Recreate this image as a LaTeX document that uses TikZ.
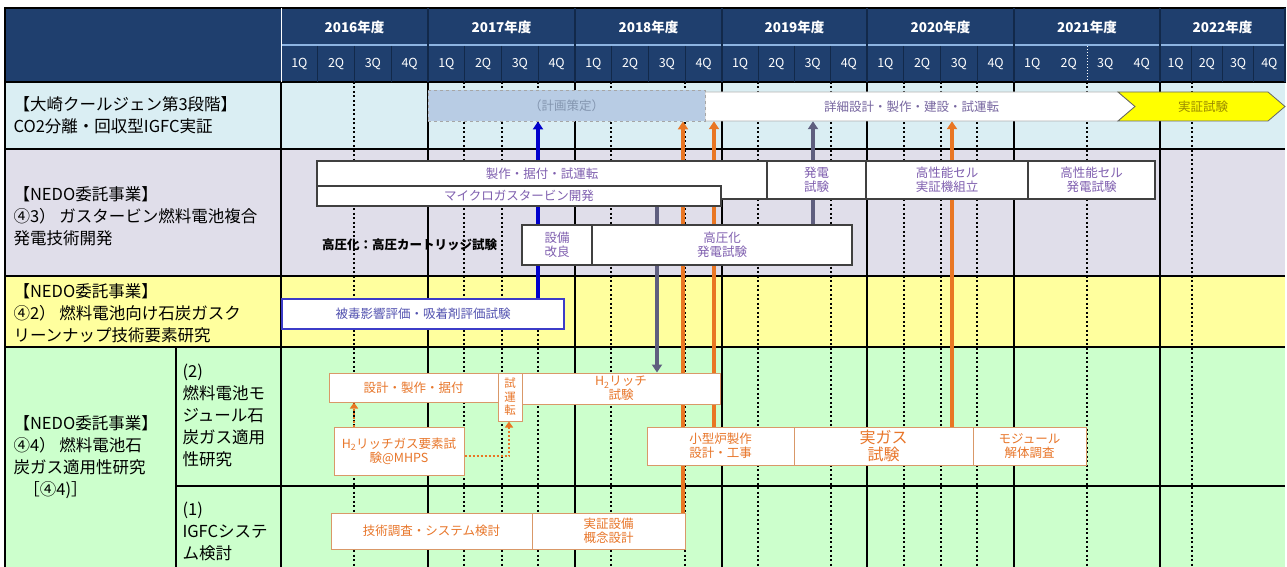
\documentclass[tikz,border=0pt]{standalone}
\usepackage{fontspec}
\setmainfont{Noto Sans CJK JP}
\usetikzlibrary{arrows.meta}
\pgfdeclarelayer{bg}
\pgfdeclarelayer{links}
\pgfsetlayers{bg,links,main}
\definecolor{navy}{HTML}{1F3F6E}
\definecolor{headdiv}{HTML}{12294A}
\definecolor{headsep}{HTML}{8DB4E2}
\definecolor{rowone}{HTML}{DAEEF3}
\definecolor{rowtwo}{HTML}{E0DEEA}
\definecolor{rowthree}{HTML}{FFFF9E}
\definecolor{rowfour}{HTML}{CCFFCC}
\definecolor{planblue}{HTML}{B8CCE4}
\definecolor{plantext}{HTML}{8496B0}
\definecolor{detailtext}{HTML}{7766A0}
\definecolor{demoyellow}{HTML}{FFFF00}
\definecolor{demotext}{HTML}{9A8A00}
\definecolor{barline}{HTML}{404040}
\definecolor{gtpurple}{HTML}{7F5FAF}
\definecolor{hiheiblue}{HTML}{3C3CC8}
\definecolor{hiheitext}{HTML}{5252B0}
\definecolor{fcline}{HTML}{D99868}
\definecolor{fcorange}{HTML}{E8762A}
\definecolor{arrowblue}{HTML}{0000CC}
\definecolor{arroworange}{HTML}{E97623}
\definecolor{arrowgray}{HTML}{5F5F7F}
\begin{document}
\begin{tikzpicture}[x=1pt,y=-1pt,
  taskbox/.style={draw, rectangle, fill=white, inner sep=0pt, align=center, font=\fontsize{12.5}{14}\selectfont},
  gtbox/.style={taskbox, draw=barline, line width=1.2pt, text=gtpurple},
  fcbox/.style={taskbox, draw=fcline, line width=1pt, text=fcorange},
  lbl/.style={anchor=west, align=left, font=\fontsize{16.5}{22}\selectfont},
  gridline/.style={line width=1.1pt, black},
  tieline/.style={-{Triangle[width=10pt,length=8pt]}, line width=3.2pt},
  dotline/.style={-{Triangle[width=8pt,length=6pt]}, line width=2.2pt, arroworange, dash pattern=on 2pt off 2pt},
]
\useasboundingbox (0,0) rectangle (1287,567);

% backgrounds and grid
\begin{pgfonlayer}{bg}
\fill[navy] (5,8) rectangle (1285,82);
\fill[rowone] (5,82) rectangle (1285,149);
\fill[rowtwo] (5,149) rectangle (1285,276);
\fill[rowthree] (5,276) rectangle (1285,347);
\fill[rowfour] (5,347) rectangle (1285,567);
\foreach \gx in {354,464,502,538,611,685,758,831,904,941,977,1087,1192}
  \draw[gridline, dash pattern=on 2pt off 2.5pt] (\gx,82) -- (\gx,567);
\foreach \gx in {281,428,575,722,867,1014,1160}
  \draw[gridline] (\gx,82) -- (\gx,567);
\foreach \gy in {82,149,276,347}
  \draw[gridline] (5,\gy) -- (1285,\gy);
\draw[gridline] (176,486) -- (1285,486);
\draw[gridline] (176,347) -- (176,567);
\draw[gridline] (5,82) -- (5,567);
\draw[line width=1.5pt] (5,8) rectangle (1285,82);
\draw[white, line width=1.5pt] (281.5,8) -- (281.5,82);
\draw[headsep, line width=2pt] (282,45) -- (1285,45);
\end{pgfonlayer}

% header
\foreach \yr/\xa/\xb in {2016/281/428,2017/428/575,2018/575/722,2019/722/867,2020/867/1014,2021/1014/1160,2022/1160/1285} {
  \node[text=white, font=\fontsize{13.5}{15}\selectfont\bfseries] (y\yr) at ({(\xa+\xb)/2},27) {\yr 年度};
  \foreach \q in {1,...,4}
    \node[text=white, font=\fontsize{12.5}{14}\selectfont] (q\yr-\q) at ({\xa+(\q-0.5)*(\xb-\xa)/4},64) {\q Q};
  \ifnum\yr=2021
    \draw[white, dash pattern=on 1.5pt off 1.5pt] ({(\xa+\xb)/2},46) -- ({(\xa+\xb)/2},82);
  \else
    \foreach \q in {1,2,3}
      \draw[headdiv, line width=1pt] ({\xa+\q*(\xb-\xa)/4},46) -- ({\xa+\q*(\xb-\xa)/4},82);
  \fi
  \draw[headdiv, line width=1.2pt] (\xb,8) -- (\xb,82);
}

% row labels
\node[lbl] (osaki) at (10,115) {【大崎クールジェン第3段階】\\CO2分離・回収型IGFC実証};
\node[lbl] (gtfc) at (10,216) {【NEDO委託事業】\\④3） ガスタービン燃料電池複合\\発電技術開発};
\node[lbl] (cleanup) at (10,313) {【NEDO委託事業】\\④2） 燃料電池向け石炭ガスク\\リーンナップ技術要素研究};
\node[lbl] (fcgas) at (10,457) {【NEDO委託事業】\\④4） 燃料電池石\\炭ガス適用性研究\\\hspace{0.6em}［④4)］};
\node[lbl] (module2) at (179,415) {(2)\\燃料電池モ\\ジュール石\\炭ガス適用\\性研究};
\node[lbl] (system1) at (179,531) {(1)\\IGFCシステ\\ム検討};

% row 1
\draw[draw=gray!60, fill=white, line width=0.8pt] (705,92) -- (1118,92) -- (1135,106.5) -- (1118,121) -- (705,121) -- cycle;
\node[taskbox, draw=gray!70, dashed, line width=0.8pt, fill=planblue, text=plantext, minimum width=277pt, minimum height=31pt] (plan) at (566.5,105.5) {（計画策定）};
\node[inner sep=0pt, text=detailtext, font=\fontsize{12.5}{14}\selectfont, minimum width=413pt, minimum height=29pt] (detail) at (911.5,106.5) {詳細設計・製作・建設・試運転};
\draw[draw=gray!80!black, fill=demoyellow, line width=0.8pt] (1118,92) -- (1268,92) -- (1285,106.5) -- (1268,121) -- (1118,121) -- (1135,106.5) -- cycle;
\node[inner sep=0pt, text=demotext, font=\fontsize{12.5}{14}\selectfont] (demo) at (1203,106.5) {実証試験};

% row 2
\node[gtbox, minimum width=450pt, minimum height=38pt,
  label={[anchor=north, yshift=-4pt, text=gtpurple, font=\fontsize{12.5}{14}\selectfont]north:製作・据付・試運転}] (seisaku) at (542,180) {};
\node[gtbox, minimum width=404pt, minimum height=20pt] (micro) at (519,196) {マイクロガスタービン開発};
\node[gtbox, minimum width=99pt, minimum height=38pt] (hatsuden) at (816.5,180) {発電\\試験};
\node[gtbox, minimum width=162pt, minimum height=38pt] (cellkumi) at (947,180) {高性能セル\\実証機組立};
\node[gtbox, minimum width=127pt, minimum height=38pt] (cellshiken) at (1091.5,180) {高性能セル\\発電試験};
\node[anchor=west, inner sep=0pt, font=\fontsize{12.5}{14}\selectfont\bfseries] (cartridge) at (322,245) {高圧化：高圧カートリッジ試験};
\node[gtbox, minimum width=70pt, minimum height=40pt] (setsubi) at (557,245) {設備\\改良};
\node[gtbox, minimum width=260pt, minimum height=40pt] (koatsu) at (722,245) {高圧化\\発電試験};

% row 3
\node[taskbox, draw=hiheiblue, line width=1.2pt, text=hiheitext, minimum width=282pt, minimum height=30pt] (hihei) at (423,314) {被毒影響評価・吸着剤評価試験};

% row 4
\node[fcbox, minimum width=169pt, minimum height=29pt] (sekkei) at (413.5,387.5) {設計・製作・据付};
\node[fcbox, minimum width=24pt, minimum height=48pt, font=\fontsize{11.5}{13.5}\selectfont] (shiunten) at (510,397) {試\\運\\転};
\node[fcbox, minimum width=198pt, minimum height=31pt] (h2test) at (621,388.5) {H\textsubscript{2}リッチ\\試験};
\node[fcbox, minimum width=130pt, minimum height=48pt] (h2gas) at (399,451) {H\textsubscript{2}リッチガス要素試\\験@MHPS};
\node[fcbox, minimum width=147pt, minimum height=38pt] (kogata) at (720.5,446) {小型炉製作\\設計・工事};
\node[fcbox, minimum width=179pt, minimum height=38pt, font=\fontsize{16}{17}\selectfont] (jitsugas) at (883.5,446) {実ガス\\試験};
\node[fcbox, minimum width=113pt, minimum height=38pt] (module) at (1029.5,446) {モジュール\\解体調査};
\node[fcbox, minimum width=201pt, minimum height=36pt] (gijutsu) at (431.5,531) {技術調査・システム検討};
\node[fcbox, minimum width=153pt, minimum height=36pt] (gainen) at (608.5,531) {実証設備\\概念設計};

% links
\begin{pgfonlayer}{links}
\draw[tieline, arrowblue] (hihei.north -| 538,0) -- (plan.south -| 538,0);
\draw[tieline, arrowgray] (micro.south -| 657,0) -- (h2test.north -| 657,0);
\draw[tieline, arroworange] (gainen.north -| 683,0) -- (plan.south -| 683,0);
\draw[tieline, arroworange] (kogata.north -| 714,0) -- (detail.south -| 714,0);
\draw[tieline, arrowgray] (koatsu.north -| 813,0) -- (detail.south -| 813,0);
\draw[tieline, arroworange] (jitsugas.north -| 952,0) -- (detail.south -| 952,0);
\end{pgfonlayer}
\draw[dotline] (h2gas.north -| 354,0) -- (sekkei.south -| 354,0);
\draw[dotline] (h2gas.east |- 0,456) -| (shiunten.south -| 509,0);
\end{tikzpicture}
\end{document}
